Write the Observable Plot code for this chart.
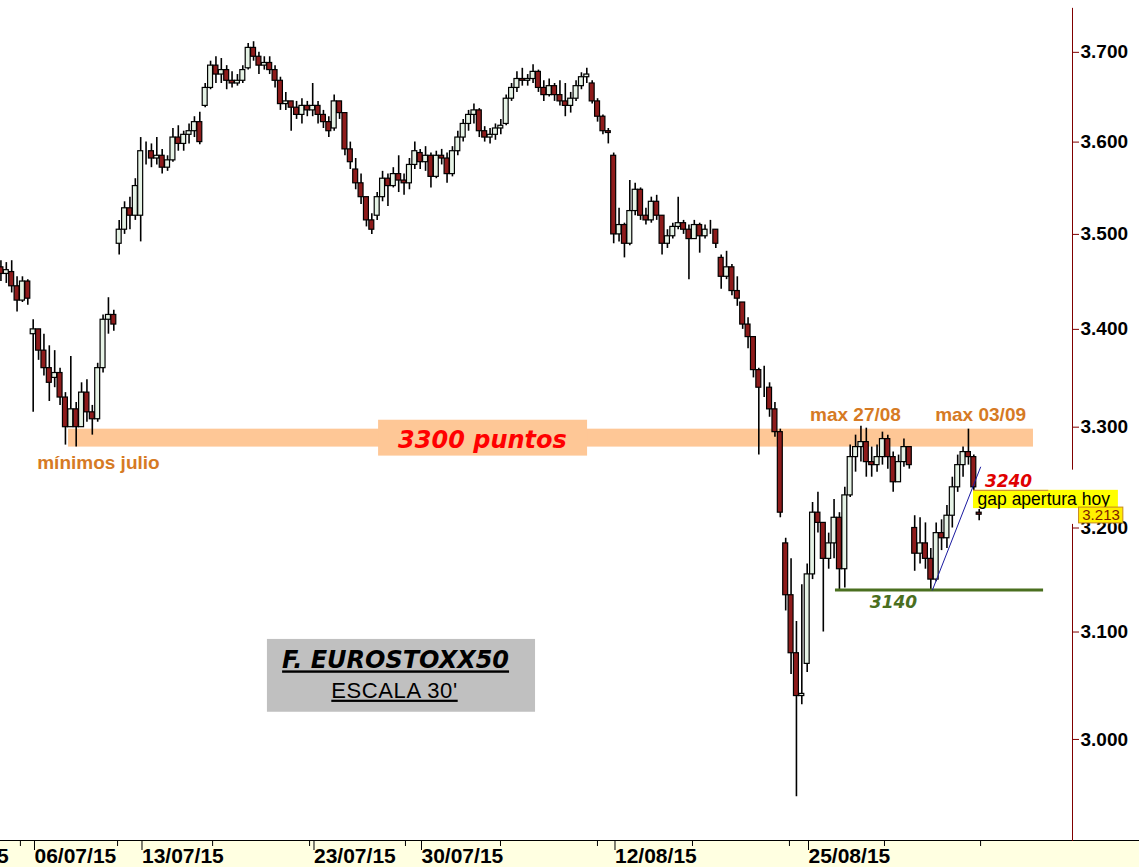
<!DOCTYPE html>
<html><head><meta charset="utf-8">
<script src="https://cdn.jsdelivr.net/npm/d3@7"></script>
<script src="https://cdn.jsdelivr.net/npm/@observablehq/plot@0.6"></script>
<style>
html,body{margin:0;padding:0;background:#fff;}
#chart{width:1139px;height:867px;overflow:hidden;}
</style></head><body><div id="chart"></div>
<script>
// ---- session data (trading days; day 0 = 06/07/15), four bars per session ----
const firstDay = -2;           // first stored session (02/07/15); its data starts at bar 3 of 4
const firstBarSlot = 2;
const barsPerSession = 4;
const sessionDates = ["02/07","03/07","06/07","07/07","08/07","09/07","10/07","13/07","14/07","15/07","16/07","17/07",
  "20/07","21/07","22/07","23/07","24/07","27/07","28/07","29/07","30/07","31/07","03/08","04/08","05/08","06/08","07/08",
  "10/08","11/08","12/08","13/08","14/08","17/08","18/08","19/08","20/08","21/08","24/08","25/08","26/08","27/08","28/08",
  "31/08","01/09","02/09","03/09","04/09"];
const sessionOpen = [3465,3460,3395,3350,3318,3308,3490,3520,3585,3598,3640,3680,
  3682,3688,3645,3635,3615,3570,3520,3565,3588,3585,3605,3612,3620,3668,3652,
  3640,3665,3585,3525,3535,3508,3510,3475,3428,3340,3185,3070,3170,3232,3265,
  3270,3200,3150,3240,3215];
const barHigh = [
  3472,3470,
  3472,3455,3455,3452,  3410,3400,3395,3383,  3378,3360,3335,3372,  3325,3345,3348,3322,  3365,3415,3433,3420,
  3515,3535,3540,3560,  3605,3600,3598,3605,  3592,3585,3615,3618,  3612,3620,3628,3633,  3665,3690,3695,3693,
  3685,3678,3675,3685,  3710,3712,3700,3695,  3695,3685,3672,3655,  3645,3645,3648,3645,  3665,3645,3635,3628,
  3652,3645,3630,3600,  3582,3565,3540,3522,  3545,3568,3565,3572,  3585,3565,3582,3600,  3592,3595,3588,3590,
  3592,3588,3595,3612,  3625,3635,3642,3637,  3617,3615,3620,3625,  3652,3665,3678,3682,  3675,3686,3680,3668,
  3670,3665,3668,3665,  3655,3668,3677,3682,  3668,3648,3630,3615,  3588,3528,3512,3558,  3555,3550,3528,3540,
  3542,3520,3505,3512,  3540,3515,3510,3515,  3512,3510,3515,3505,  3478,3482,3468,3455,  3428,3412,3392,3360,
  3362,3345,3325,3298,  3190,3170,3110,3145,  3165,3225,3235,3205,  3195,3228,3215,3240,  3282,3292,3301,3299,
  3280,3282,3295,3292,  3275,3272,3288,3275,  3212,3210,3205,3180,  3205,3208,3222,3250,  3272,3280,3298,3272,
  3218];
const barLow = [
  3450,3448,
  3438,3418,3428,3425,  3315,3368,3352,3326,  3340,3322,3282,3300,  3280,3300,3305,3292,  3305,3355,3395,3398,
  3478,3500,3505,3515,  3492,3575,3572,3575,  3565,3568,3578,3590,  3590,3598,3605,3597,  3638,3658,3665,3665,
  3658,3660,3662,3665,  3680,3690,3675,3680,  3675,3660,3635,3635,  3612,3625,3620,3628,  3628,3620,3615,3605,
  3612,3625,3585,3570,  3548,3532,3508,3500,  3515,3535,3530,3550,  3545,3542,3548,3570,  3570,3568,3550,3560,
  3575,3555,3562,3585,  3600,3612,3620,3605,  3600,3598,3602,3608,  3618,3645,3655,3662,  3662,3665,3655,3645,
  3650,3645,3640,3628,  3632,3645,3658,3665,  3642,3622,3608,3598,  3490,3492,3475,3488,  3520,3515,3510,3512,
  3515,3478,3485,3495,  3505,3500,3452,3495,  3480,3495,3500,3485,  3442,3452,3435,3424,  3400,3380,3350,3272,
  3330,3310,3290,3210,  3120,3060,2948,3032,  3062,3150,3195,3100,  3160,3170,3140,3142,  3230,3255,3265,3250,
  3250,3255,3262,3258,  3235,3245,3260,3258,  3158,3165,3160,3140,  3148,3178,3180,3200,  3235,3250,3262,3232,
  3207];
const barClose = [
  3458,3462,
  3445,3430,3450,3432,  3400,3378,3360,3345,  3355,3330,3300,3318,  3300,3335,3315,3308,  3360,3410,3415,3405,
  3505,3528,3520,3552,  3590,3590,3582,3585,  3572,3580,3605,3598,  3608,3612,3622,3600,  3660,3685,3675,3680,
  3668,3665,3668,3680,  3705,3695,3685,3688,  3680,3668,3642,3645,  3638,3630,3640,3635,  3640,3630,3622,3612,
  3645,3632,3592,3578,  3555,3540,3515,3505,  3540,3560,3552,3565,  3558,3555,3575,3590,  3578,3585,3562,3585,
  3582,3565,3590,3605,  3620,3630,3635,3612,  3605,3608,3615,3618,  3648,3660,3670,3668,  3670,3678,3660,3652,
  3662,3652,3645,3640,  3648,3662,3672,3675,  3645,3628,3612,3610,  3500,3510,3490,3525,  3548,3520,3515,3535,
  3520,3490,3498,3508,  3512,3505,3495,3510,  3498,3505,3505,3490,  3455,3465,3440,3432,  3405,3392,3358,3340,
  3340,3318,3295,3215,  3135,3080,3040,3042,  3155,3215,3205,3170,  3185,3210,3160,3232,  3270,3280,3285,3265,
  3262,3270,3288,3270,  3245,3265,3280,3262,  3175,3185,3170,3150,  3195,3190,3212,3240,  3262,3275,3270,3240,
  3213];

// ---- axes ----
const yTicks = [3000, 3100, 3200, 3300, 3400, 3500, 3600, 3700];
const dateTicks = [-5, 0, 5, 13, 18, 27, 36];
const dateLabels = ["29/06/15", "06/07/15", "13/07/15", "23/07/15", "30/07/15", "12/08/15", "25/08/15"];
const minorTicks = [-0.47, 4.05, 8.47, 12.98, 17.44, 21.86, 26.37, 30.79, 35.3, 39.72, 44.19];

// ---- annotations (in day / price units) ----
const zoneBand = [{x1: 1.77, x2: 46.65, y1: 3280, y2: 3298}];
const zoneBox = [{x1: 16.19, x2: 25.91, y1: 3271, y2: 3307}];
const zoneText = [{day: 21.02, price: 3287, text: "3300 puntos"}];
const orangeNotes = [
  {day: 3.16, price: 3264, text: "mínimos julio"},
  {day: 38.37, price: 3312, text: "max 27/08"},
  {day: 44.19, price: 3312, text: "max 03/09"}];
const supportLine = [{x1: 37.44, x2: 47.12, price: 3140}];
const supportText = [{day: 40.14, price: 3128, text: "3140"}];
const trendLine = [{day: 41.95, price: 3140}, {day: 44.19, price: 3260}];
const levelText = [{day: 45.49, price: 3246, text: "3240"}];
const gapBox = [{x1: 43.86, x2: 50.6, y1: 3219, y2: 3237}];
const gapText = [{day: 44.05, price: 3228, text: "gap apertura hoy"}];
const lastBox = [{x1: 48.77, x2: 50.83, y1: 3204.5, y2: 3220}];
const lastText = [{day: 48.92, price: 3212.5, text: "3.213"}];
const titleBox = [{x1: 11.02, x2: 23.49, y1: 3025, y2: 3093}];
const titleText = [{day: 16.98, price: 3073, text: "F. EUROSTOXX50"}];
const subText = [{day: 16.93, price: 3045, text: "ESCALA 30'"}];

const xDomain = [-1.3953, 48.4651];
const yDomain = [2908, 3759];

// ---- build candle table ----
const candles = [];
for (let i = 0, slot = firstBarSlot; i < barClose.length; i++, slot++) {
  const s = Math.floor(slot / barsPerSession), k = slot % barsPerSession;
  const open = (i === 0 || k === 0) ? sessionOpen[s] : barClose[i - 1];
  const close = barClose[i];
  candles.push({
    t: s + firstDay + (k + 0.5) / barsPerSession,
    open, close,
    high: Math.max(barHigh[i], open, close),
    low: Math.min(barLow[i], open, close),
    up: close >= open
  });
}
const bw = 0.115;
const heavy = "DejaVu Sans, Verdana, sans-serif";
const arial = "Liberation Sans, Arial, Helvetica, sans-serif";
const orange = "#d67a24";

const chart = Plot.plot({
  width: 1139, height: 867,
  marginLeft: 0, marginRight: 67, marginTop: 0, marginBottom: 26,
  style: {background: "linear-gradient(to bottom, #ffffff 840px, #000000 840px, #000000 841px, #ffffe1 841px)", overflow: "hidden"},
  x: {domain: xDomain, range: [0, 1072], axis: null},
  y: {type: "log", domain: yDomain, range: [841, 0], axis: null},
  marks: [
    Plot.rect(zoneBand, {x1: "x1", x2: "x2", y1: "y1", y2: "y2", fill: "#fec796"}),
    Plot.ruleX(candles, {x: "t", y1: "low", y2: "high", stroke: "#000", strokeWidth: 1.6}),
    Plot.rect(candles.filter(d => d.up), {x1: d => d.t - bw, x2: d => d.t + bw, y1: "open", y2: "close", fill: "#e6f3e6", stroke: "#000", strokeWidth: 1.2}),
    Plot.rect(candles.filter(d => !d.up), {x1: d => d.t - bw, x2: d => d.t + bw, y1: "open", y2: "close", fill: "#8e1b1b", stroke: "#000", strokeWidth: 1.2}),
    Plot.rect(zoneBox, {x1: "x1", x2: "x2", y1: "y1", y2: "y2", fill: "#fec796"}),
    Plot.text(zoneText, {x: "day", y: "price", text: "text", fill: "#ff0000", fontFamily: heavy, fontWeight: "bold", fontStyle: "italic", fontSize: 24}),
    Plot.text(orangeNotes, {x: "day", y: "price", text: "text", fill: orange, fontFamily: arial, fontWeight: "bold", fontSize: 19}),
    Plot.ruleY(supportLine, {x1: "x1", x2: "x2", y: "price", stroke: "#4a6f1f", strokeWidth: 3}),
    Plot.text(supportText, {x: "day", y: "price", text: "text", fill: "#4a6f1f", fontFamily: heavy, fontWeight: "bold", fontStyle: "italic", fontSize: 17}),
    Plot.line(trendLine, {x: "day", y: "price", stroke: "#1a1aa0", strokeWidth: 1}),
    Plot.text(levelText, {x: "day", y: "price", text: "text", fill: "#e00000", fontFamily: heavy, fontWeight: "bold", fontStyle: "italic", fontSize: 17}),
    // right axis line, interrupted by the price labels
    Plot.ruleX([xDomain[1]], {y1: 3750, y2: 3257, stroke: "#800000", strokeWidth: 1}),
    Plot.ruleX([xDomain[1]], {y1: 3203.5, y2: 2908, stroke: "#800000", strokeWidth: 1}),
    Plot.axisY({anchor: "right", ticks: yTicks, tickFormat: d => d3.format(",")(d).replace(",", "."), tickSize: 6, tickPadding: 2,
      stroke: "#800000", fill: "#000", fontSize: 19, fontWeight: "bold", fontFamily: arial, label: null}),
    Plot.rect(gapBox, {x1: "x1", x2: "x2", y1: "y1", y2: "y2", fill: "#ffff00"}),
    Plot.ruleY(gapBox, {x1: "x1", x2: d => d.x1 + 3.5, y: "y2", stroke: "#c8843c", strokeWidth: 1}),
    Plot.text(gapText, {x: "day", y: "price", text: "text", textAnchor: "start", fill: "#000", fontFamily: arial, fontSize: 17.5}),
    Plot.rect(lastBox, {x1: "x1", x2: "x2", y1: "y1", y2: "y2", fill: "#ffee00", stroke: "#c88a1e", strokeWidth: 1}),
    Plot.text(lastText, {x: "day", y: "price", text: "text", textAnchor: "start", fill: "#7a1a00", fontFamily: arial, fontSize: 15}),
    Plot.rect(titleBox, {x1: "x1", x2: "x2", y1: "y1", y2: "y2", fill: "#c0c0c0"}),
    Plot.text(titleText, {x: "day", y: "price", text: "text", fill: "#000", fontFamily: heavy, fontWeight: "bold", fontStyle: "italic", fontSize: 24}),
    Plot.text(subText, {x: "day", y: "price", text: "text", fill: "#000", fontFamily: arial, fontSize: 22}),
    Plot.axisX({anchor: "bottom", ticks: minorTicks, tickSize: 5, tickFormat: () => "", stroke: "#000", label: null}),
    Plot.axisX({anchor: "bottom", ticks: dateTicks, tickFormat: d => dateLabels[dateTicks.indexOf(d)], tickSize: 9, tickPadding: -2,
      textAnchor: "start", dx: 4, stroke: "#000", fill: "#000", fontSize: 21, fontWeight: "bold", fontFamily: arial, label: null})
  ]
});
document.getElementById("chart").appendChild(chart);
d3.select(chart).selectAll("text").filter(function() { return this.textContent === "F. EUROSTOXX50" || this.textContent === "ESCALA 30'"; })
  .style("text-decoration", "underline");
d3.select(chart).selectAll("text").filter(function() { return this.textContent === "ESCALA 30'"; })
  .style("letter-spacing", "0.6px");
</script></body></html>
